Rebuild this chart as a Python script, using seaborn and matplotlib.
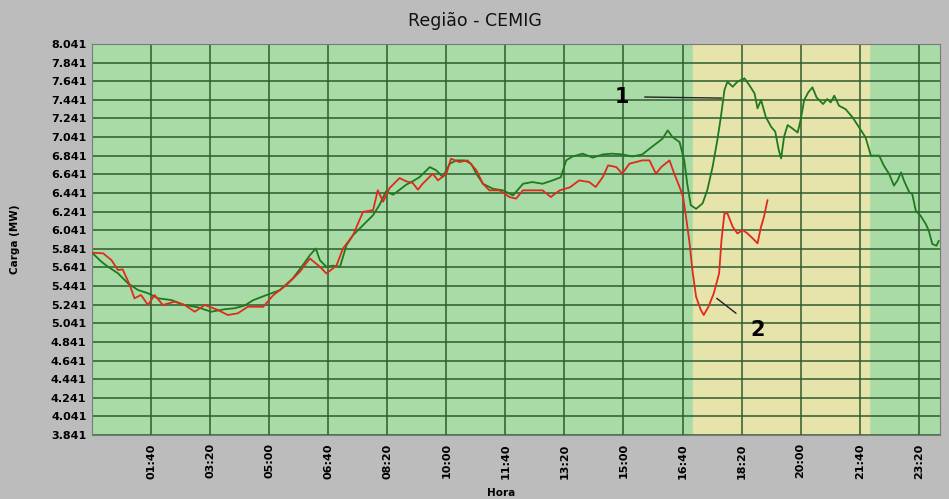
import numpy as np
import pandas as pd
import seaborn as sns
import matplotlib.pyplot as plt
from matplotlib.ticker import FuncFormatter

# minutes since 00:00 and load in MW
green_t = [0, 16, 27, 44, 61, 78, 95, 112, 134, 157, 179, 202, 224, 241, 258, 273, 295, 318,
           340, 357, 369, 379, 386, 397, 408, 420, 431, 442, 459, 476, 487, 498, 510, 521,
           532, 543, 555, 572, 583, 594, 606, 617, 631, 642, 651, 662, 679, 696, 713, 730,
           746, 763, 780, 794, 803, 814, 831, 848, 865, 881, 898, 915, 932, 944, 955, 966,
           975, 983, 995, 1003, 1008, 1014, 1023, 1034, 1042, 1051, 1059, 1065, 1071, 1076,
           1085, 1093, 1105, 1113, 1122, 1127, 1133, 1141, 1150, 1157, 1163, 1167, 1172,
           1178, 1186, 1195, 1200, 1206, 1213, 1220, 1227, 1238, 1245, 1251, 1257, 1265,
           1276, 1288, 1299, 1310, 1319, 1324, 1333, 1341, 1350, 1358, 1364, 1370, 1375,
           1384, 1389, 1395, 1403, 1412, 1417, 1423, 1430, 1434]
green_v = [5800, 5702, 5649, 5578, 5470, 5398, 5363, 5309, 5291, 5237, 5213, 5165, 5191, 5202,
           5230, 5289, 5343, 5396, 5522, 5665, 5772, 5844, 5718, 5648, 5660, 5648, 5879, 5987,
           6094, 6202, 6314, 6458, 6422, 6476, 6529, 6566, 6612, 6719, 6684, 6612, 6755, 6791,
           6791, 6755, 6647, 6540, 6486, 6469, 6415, 6540, 6558, 6540, 6576, 6610, 6791, 6833,
           6863, 6820, 6855, 6863, 6855, 6833, 6855, 6916, 6970, 7023, 7113, 7041, 6988, 6791,
           6540, 6310, 6270, 6329, 6472, 6722, 7009, 7259, 7546, 7636, 7582, 7636, 7672, 7600,
           7511, 7350, 7439, 7259, 7152, 7100, 6902, 6812, 7045, 7170, 7134, 7090, 7224, 7439,
           7522, 7575, 7468, 7396, 7450, 7414, 7486, 7378, 7342, 7253, 7146, 7038, 6842, 6842,
           6842, 6734, 6644, 6520, 6574, 6662, 6574, 6448, 6430, 6251, 6197, 6107, 6036, 5892,
           5874, 5928]

red_t = [0, 19, 33, 44, 52, 64, 72, 83, 95, 106, 120, 140, 157, 174, 191, 213, 230, 247, 264,
         290, 307, 329, 352, 369, 386, 397, 414, 425, 442, 459, 476, 484, 493, 504, 521, 532,
         543, 552, 560, 577, 586, 600, 608, 622, 636, 651, 662, 673, 690, 707, 718, 730, 746,
         763, 777, 792, 809, 825, 842, 853, 865, 874, 888, 898, 910, 921, 932, 944, 955, 964,
         978, 986, 995, 1001, 1006, 1012, 1017, 1023, 1031, 1036, 1044, 1053, 1062, 1066,
         1071, 1076, 1085, 1093, 1102, 1110, 1119, 1127, 1133, 1138, 1144]
red_v = [5800, 5792, 5720, 5613, 5620, 5452, 5309, 5345, 5237, 5345, 5237, 5273, 5237, 5165,
         5237, 5184, 5130, 5148, 5219, 5218, 5343, 5450, 5594, 5737, 5648, 5576, 5660, 5844,
         5987, 6238, 6256, 6470, 6347, 6494, 6601, 6566, 6549, 6476, 6540, 6647, 6576, 6647,
         6809, 6773, 6791, 6684, 6540, 6469, 6469, 6397, 6380, 6469, 6469, 6469, 6397, 6469,
         6500, 6576, 6558, 6505, 6612, 6737, 6719, 6648, 6755, 6773, 6791, 6791, 6648, 6719,
         6791, 6648, 6505, 6397, 6182, 5900, 5600, 5326, 5184, 5130, 5219, 5363, 5578, 5935,
         6222, 6222, 6078, 6006, 6042, 6006, 5952, 5900, 6078, 6186, 6365]

peak_start, peak_end = 1018, 1315
y_ticks = list(range(3841, 8042, 200))
x_ticks = list(range(100, 1401, 100))

green = pd.DataFrame({"t": green_t, "v": green_v})
red = pd.DataFrame({"t": red_t, "v": red_v})

sns.set_style("white")
plt.rcParams["font.family"] = ["DejaVu Sans"]
plt.rcParams.update({"text.color": "black", "axes.labelcolor": "black",
                     "xtick.color": "black", "ytick.color": "black"})

fig = plt.figure(figsize=(9.49, 4.99), dpi=100, facecolor="#bcbcbc")
ax = fig.add_axes([0.0969, 0.1283, 0.8936, 0.7835])
ax.set_facecolor("#a9dba6")
ax.axvspan(peak_start, peak_end, color="#e6e3ab", zorder=0)

sns.lineplot(data=green, x="t", y="v", ax=ax, color="#1d7a1d", lw=1.3, estimator=None, zorder=3)
sns.lineplot(data=red, x="t", y="v", ax=ax, color="#e02a1e", lw=1.3, estimator=None, zorder=4)

ax.set_xlim(0, 1436)
ax.set_ylim(3841, 8041)
ax.set_yticks(y_ticks)
ax.set_xticks(x_ticks)
ax.yaxis.set_major_formatter(FuncFormatter(lambda v, p: f"{int(v):,}".replace(",", ".")))
ax.xaxis.set_major_formatter(FuncFormatter(lambda v, p: f"{int(v) // 60:02d}:{int(v) % 60:02d}"))
ax.tick_params(axis="x", labelrotation=90, length=0, pad=6)
ax.tick_params(axis="y", length=0, pad=4)
for lab in ax.get_xticklabels() + ax.get_yticklabels():
    lab.set_fontweight("bold")
    lab.set_fontsize(8)
ax.grid(True, color="#2f5a2f", lw=1.1, zorder=1)
ax.set_axisbelow(True)
for s in ax.spines.values():
    s.set_color("#7a7a7a")

ax.set_xlabel("Hora", fontsize=7.5, fontweight="bold")
ax.xaxis.set_label_coords(0.483, -0.135)
ax.set_ylabel("Carga (MW)", fontsize=7.5, fontweight="bold")
ax.yaxis.set_label_coords(-0.085, 0.5)
fig.suptitle("Região - CEMIG", fontsize=12.5, y=0.975, color="#111111")

ax.annotate("1", xy=(1066, 7460), xytext=(897, 7475), fontsize=15, fontweight="bold",
            ha="center", va="center",
            arrowprops=dict(arrowstyle="-", color="#222222", lw=1, shrinkA=9, shrinkB=0))
ax.annotate("2", xy=(1058, 5309), xytext=(1127, 4969), fontsize=15, fontweight="bold",
            ha="center", va="center",
            arrowprops=dict(arrowstyle="-", color="#222222", lw=1, shrinkA=10, shrinkB=0))

fig.savefig("out.png", dpi=100, facecolor=fig.get_facecolor())
